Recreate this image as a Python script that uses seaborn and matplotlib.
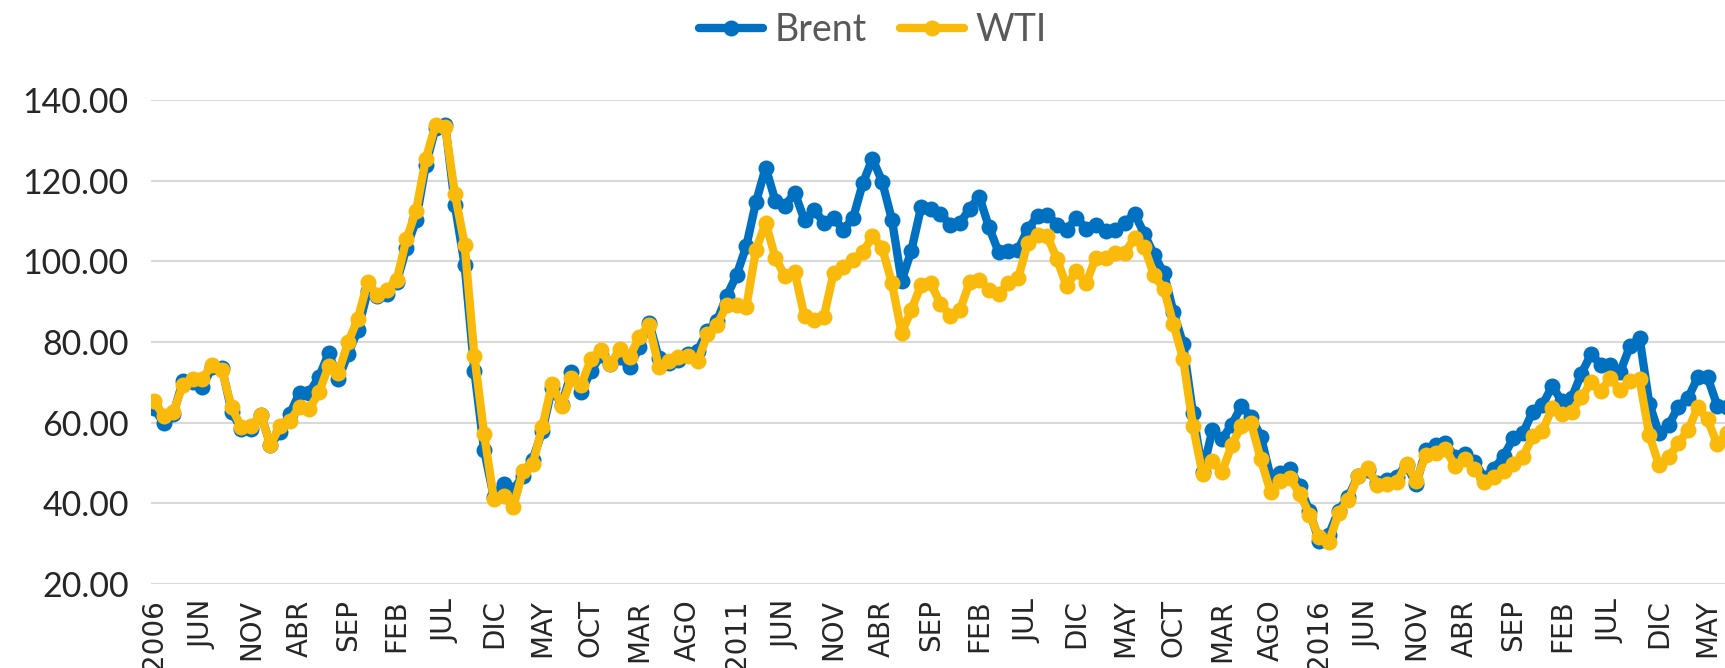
import matplotlib
matplotlib.use('Agg')
import matplotlib.pyplot as plt
import numpy as np
import pandas as pd
import seaborn as sns

# monthly averages, Jan 2006 - Jul 2019 (USD/bbl)
brent = [
    63.57, 59.92, 62.25, 70.44, 70.19, 68.86, 73.90, 73.61, 62.77, 58.38, 58.46, 62.00,  # 2006
    54.51, 57.81, 62.14, 67.40, 67.48, 71.32, 77.20, 70.80, 77.13, 82.86, 92.53, 91.45,  # 2007
    91.92, 94.82, 103.28, 110.19, 123.94, 133.05, 133.90, 113.85, 99.06, 72.84, 53.24, 41.58,  # 2008
    44.86, 43.24, 46.84, 50.85, 57.94, 68.61, 64.44, 72.51, 67.65, 72.77, 76.66, 74.46,  # 2009
    76.17, 73.75, 78.83, 84.82, 75.95, 74.76, 75.58, 77.04, 77.84, 82.67, 85.28, 91.45,  # 2010
    96.52, 103.72, 114.64, 123.26, 114.99, 113.83, 116.97, 110.22, 112.83, 109.55, 110.77, 107.87,  # 2011
    110.69, 119.33, 125.45, 119.75, 110.34, 95.16, 102.62, 113.36, 112.86, 111.71, 109.06, 109.49,  # 2012
    112.96, 116.05, 108.47, 102.25, 102.56, 102.92, 107.93, 111.28, 111.60, 109.08, 107.79, 110.76,  # 2013
    108.12, 108.90, 107.48, 107.76, 109.54, 111.80, 106.77, 101.61, 97.09, 87.43, 79.44, 62.34,  # 2014
    47.76, 58.10, 55.89, 59.52, 64.08, 61.48, 56.56, 46.52, 47.62, 48.43, 44.27, 38.01,  # 2015
    30.70, 32.18, 38.21, 41.58, 46.74, 48.25, 44.95, 45.84, 46.57, 49.52, 44.73, 53.31,  # 2016
    54.58, 54.87, 51.59, 52.31, 50.33, 46.37, 48.48, 51.70, 56.15, 57.51, 62.71, 64.37,  # 2017
    69.08, 65.32, 66.02, 72.11, 76.98, 74.41, 74.25, 72.53, 78.89, 81.03, 64.75, 57.36,  # 2018
    59.41, 63.96, 66.14, 71.23, 71.32, 64.22, 63.92,  # 2019
]
wti = [
    65.48, 61.63, 62.69, 69.44, 70.84, 70.95, 74.41, 73.04, 63.80, 58.89, 59.08, 61.96,
    54.51, 59.28, 60.44, 63.98, 63.46, 67.49, 74.12, 72.36, 79.92, 85.80, 94.77, 91.69,
    92.97, 95.39, 105.45, 112.58, 125.40, 133.88, 133.37, 116.67, 104.11, 76.61, 57.31, 41.12,
    41.71, 39.09, 47.94, 49.65, 59.03, 69.64, 64.15, 71.05, 69.41, 75.72, 77.99, 74.47,
    78.33, 76.39, 81.20, 84.29, 73.74, 75.34, 76.32, 76.60, 75.24, 81.89, 84.25, 89.15,
    89.17, 88.58, 102.86, 109.53, 100.90, 96.26, 97.30, 86.33, 85.52, 86.32, 97.16, 98.56,
    100.27, 102.20, 106.16, 103.32, 94.66, 82.30, 87.90, 94.13, 94.51, 89.49, 86.53, 87.86,
    94.76, 95.31, 92.94, 92.02, 94.51, 95.77, 104.67, 106.57, 106.29, 100.54, 93.86, 97.63,
    94.62, 100.82, 100.80, 102.07, 102.18, 105.79, 103.59, 96.54, 93.21, 84.40, 75.79, 59.29,
    47.22, 50.58, 47.82, 54.45, 59.27, 59.82, 50.90, 42.87, 45.48, 46.22, 42.44, 37.19,
    31.68, 30.32, 37.55, 40.75, 46.71, 48.76, 44.65, 44.72, 45.18, 49.78, 45.66, 51.97,
    52.50, 53.47, 49.33, 51.06, 48.48, 45.18, 46.63, 48.04, 49.82, 51.58, 56.64, 57.88,
    63.70, 62.23, 62.73, 66.25, 69.98, 67.87, 70.98, 68.06, 70.23, 70.75, 56.96, 49.52,
    51.38, 54.95, 58.15, 63.86, 60.83, 54.66, 57.35,
]
tick_labels = ["2006", "JUN", "NOV", "ABR", "SEP", "FEB", "JUL", "DIC", "MAY", "OCT",
               "MAR", "AGO", "2011", "JUN", "NOV", "ABR", "SEP", "FEB", "JUL", "DIC",
               "MAY", "OCT", "MAR", "AGO", "2016", "JUN", "NOV", "ABR", "SEP", "FEB",
               "JUL", "DIC", "MAY"]
y_ticks = [20, 40, 60, 80, 100, 120, 140]

months = np.arange(len(brent))
df = pd.concat([
    pd.DataFrame({"mes": months, "precio": brent, "serie": "Brent"}),
    pd.DataFrame({"mes": months, "precio": wti, "serie": "WTI"}),
])

sns.set_style("white")
plt.rcParams['font.family'] = ['Lato', 'DejaVu Sans']

fig = plt.figure(figsize=(17.25, 6.68), dpi=100)
ax = fig.add_axes([0.0875, 0.1257, 0.9125, 0.7246])

sns.lineplot(data=df, x="mes", y="precio", hue="serie",
             palette={"Brent": "#0070C0", "WTI": "#F9BA0B"},
             marker="o", markersize=11.5, markeredgewidth=0, linewidth=6,
             ax=ax, legend=True)

ax.set_xlim(-0.31, 161.8)
ax.set_ylim(20, 140)
ax.set_yticks(y_ticks)
ax.set_yticklabels([f"{v:.2f}" for v in y_ticks], fontsize=24.5)
ax.set_xticks(np.arange(0, 5 * len(tick_labels), 5))
ax.set_xticklabels(tick_labels, rotation=90, fontsize=20, va="top",
                   family="DejaVu Sans")
ax.tick_params(axis="y", length=0, pad=16)
ax.tick_params(axis="x", length=0, pad=11)
ax.set_xlabel("")
ax.set_ylabel("")
ax.yaxis.grid(True, color="#D9D9D9", linewidth=1.5)
ax.set_axisbelow(True)
sns.despine(ax=ax, left=True, bottom=True)

handles, labels = ax.get_legend_handles_labels()
ax.legend_.remove()
leg = fig.legend(handles, labels, loc="center", bbox_to_anchor=(0.506, 0.955),
                 ncol=2, frameon=False, fontsize=27, handlelength=1.7,
                 columnspacing=0.9, handletextpad=0.3)
for t in leg.get_texts():
    t.set_color("#595959")

fig.savefig("out.png", dpi=100)
